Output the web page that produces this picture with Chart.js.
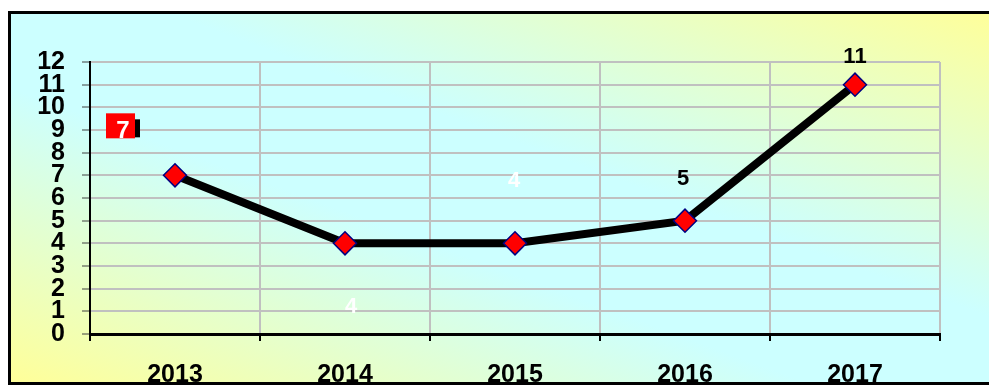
<!DOCTYPE html>
<html>
<head>
<meta charset="utf-8">
<script src="https://cdn.jsdelivr.net/npm/chart.js@4/dist/chart.umd.min.js"></script>
<style>
    html, body { margin: 0; padding: 0; background: #fff; overflow: hidden; }
    #frame {
        position: absolute;
        left: 8px;
        top: 11px;
        width: 1000px;
        height: 374px;
        box-sizing: border-box;
        border: 3px solid #000;
        background: linear-gradient(to top right, #ffff99 0%, #ccffff 40%, #ccffff 58%, #ffff99 100%);
    }
    #chart { position: absolute; left: 0; top: 0; }
</style>
</head>
<body>
<div id="frame"></div>
<canvas id="chart" width="989" height="385"></canvas>
<script>
const years = ['2013', '2014', '2015', '2016', '2017'];
const values = [7, 4, 4, 5, 11];
const yTicks = [0, 1, 2, 3, 4, 5, 6, 7, 8, 9, 10, 11, 12];

// value labels sit where they were dragged, not right on the points
const labelShiftX = [-52, 6, -1, -2, 0];
const labelShiftY = [-37, 70, -56, -36, -22];
const labelColors = ['#ffffff', '#ffffff', '#ffffff', '#000000', '#000000'];
const labelBoxed = [true, false, false, false, false];

const FONT = '"Liberation Sans", Arial, sans-serif';

const valueLabels = {
    id: 'valueLabels',
    afterDatasetsDraw(chart) {
        const ctx = chart.ctx;
        const meta = chart.getDatasetMeta(0);
        ctx.save();
        ctx.textAlign = 'center';
        ctx.textBaseline = 'alphabetic';
        meta.data.forEach((pt, i) => {
            const x = pt.x + labelShiftX[i];
            const y = pt.y + labelShiftY[i];
            ctx.font = 'bold 22px ' + FONT;
            if (labelBoxed[i]) {
                ctx.fillStyle = '#ff0000';
                ctx.fillRect(x - 17, y - 25, 29, 25);
                ctx.fillStyle = '#000000';
                ctx.fillRect(x + 12, y - 19, 5, 18);
                ctx.font = 'bold 24px ' + FONT;
            }
            ctx.fillStyle = labelColors[i];
            ctx.fillText(String(values[i]), x, y);
        });
        ctx.restore();
    }
};

const ctx = document.getElementById('chart').getContext('2d');

new Chart(ctx, {
    type: 'line',
    data: {
        labels: years,
        datasets: [{
            data: values,
            borderColor: '#000000',
            borderWidth: 8,
            tension: 0,
            fill: false,
            pointStyle: 'rectRot',
            pointRadius: 11.5,
            pointHoverRadius: 11.5,
            pointBackgroundColor: '#ff0000',
            pointBorderColor: '#000080',
            pointBorderWidth: 1.5
        }]
    },
    options: {
        responsive: false,
        devicePixelRatio: 1,
        animation: false,
        events: [],
        layout: { padding: { left: 0, top: 62, right: 49, bottom: 0 } },
        plugins: {
            legend: { display: false },
            tooltip: { enabled: false }
        },
        scales: {
            x: {
                offset: true,
                afterFit: (scale) => { scale.height = 51; },
                grid: {
                    offset: true,
                    color: '#c0c0c0',
                    lineWidth: 2,
                    tickLength: 7,
                    tickColor: '#000000',
                    tickWidth: 2
                },
                border: { display: true, color: '#000000', width: 3 },
                ticks: {
                    color: '#000000',
                    padding: 22,
                    maxRotation: 0,
                    font: { family: FONT, size: 25, weight: 'bold', lineHeight: 1 }
                }
            },
            y: {
                min: yTicks[0],
                max: yTicks[yTicks.length - 1],
                afterFit: (scale) => { scale.width = 90; },
                grid: {
                    color: '#c0c0c0',
                    lineWidth: 2,
                    tickLength: 8,
                    tickColor: '#404040',
                    tickWidth: 1
                },
                border: { display: true, color: '#000000', width: 2 },
                afterBuildTicks: (scale) => { scale.ticks = yTicks.map(v => ({ value: v })); },
                ticks: {
                    color: '#000000',
                    padding: 17,
                    autoSkip: false,
                    font: { family: FONT, size: 25, weight: 'bold', lineHeight: 1 }
                }
            }
        }
    },
    plugins: [valueLabels]
});
</script>
</body>
</html>
